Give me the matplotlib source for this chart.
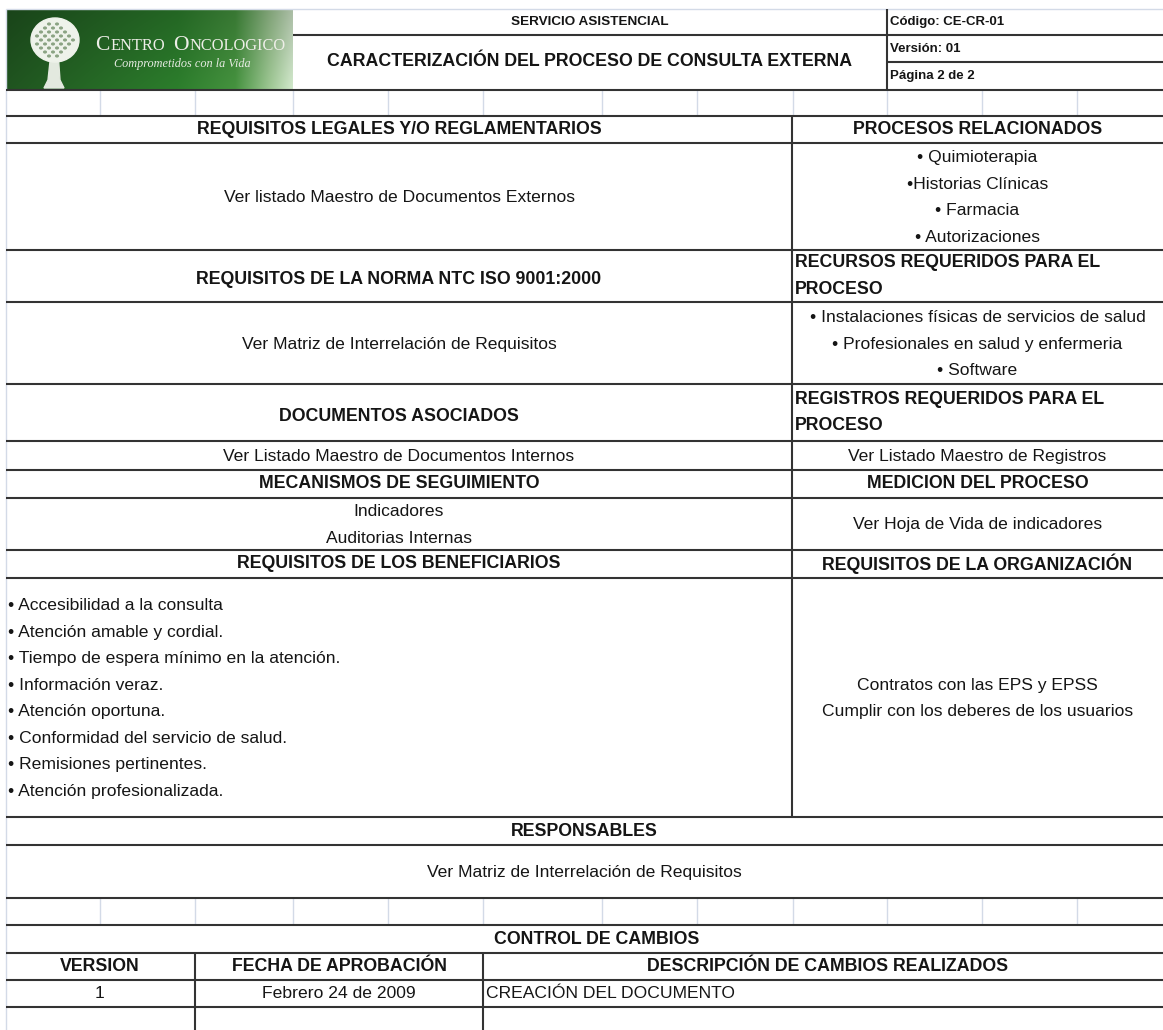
import numpy as np
import matplotlib.pyplot as plt
from matplotlib.patches import Ellipse, Polygon

# Page size in pixels (1 data unit = 1 pixel)
W, H = 1163, 1030
NARROW = ['Liberation Sans Narrow', 'Liberation Sans', 'DejaVu Sans']
SERIF = ['Liberation Serif', 'DejaVu Serif']

# ---- texts of the sheet ----
header_top = "SERVICIO ASISTENCIAL"
header_title = "CARACTERIZACIÓN DEL PROCESO DE CONSULTA EXTERNA"
header_info = ["Código: CE-CR-01", "Versión: 01", "Página 2 de 2"]
logo_name = ["C", "ENTRO", "  ", "O", "NCOLOGICO"]
logo_motto = "Comprometidos con la Vida"

left_titles = ["REQUISITOS LEGALES Y/O REGLAMENTARIOS",
               "REQUISITOS DE LA NORMA NTC ISO 9001:2000",
               "DOCUMENTOS ASOCIADOS",
               "MECANISMOS DE SEGUIMIENTO",
               "REQUISITOS DE LOS BENEFICIARIOS"]
beneficiarios = ["• Accesibilidad a la consulta",
                 "• Atención amable y cordial.",
                 "• Tiempo de espera mínimo en la atención.",
                 "• Información veraz.",
                 "• Atención oportuna.",
                 "• Conformidad del servicio de salud.",
                 "• Remisiones pertinentes.",
                 "• Atención profesionalizada."]
left_contents = [["Ver listado Maestro de Documentos Externos"],
                 ["Ver Matriz de Interrelación de Requisitos"],
                 ["Ver Listado Maestro de Documentos Internos"],
                 ["Indicadores", "Auditorias Internas"],
                 beneficiarios]

right_titles = [["PROCESOS RELACIONADOS"],
                ["RECURSOS REQUERIDOS PARA EL", "PROCESO"],
                ["REGISTROS REQUERIDOS PARA EL", "PROCESO"],
                ["MEDICION DEL PROCESO"],
                ["REQUISITOS DE LA ORGANIZACIÓN"]]
right_contents = [["• Quimioterapia", "•Historias Clínicas", "• Farmacia", "• Autorizaciones"],
                  ["• Instalaciones físicas de servicios de salud",
                   "• Profesionales en salud y enfermeria", "• Software"],
                  ["Ver Listado Maestro de Registros"],
                  ["Ver Hoja de Vida de indicadores"],
                  ["Contratos con las EPS y EPSS", "Cumplir con los deberes de los usuarios"]]

responsables_title = "RESPONSABLES"
responsables_text = "Ver Matriz de Interrelación de Requisitos"
cambios_title = "CONTROL DE CAMBIOS"
cambios_cols = ["VERSION", "FECHA DE APROBACIÓN", "DESCRIPCIÓN DE CAMBIOS REALIZADOS"]
cambios_rows = [["1", "Febrero 24 de 2009", "CREACIÓN DEL DOCUMENTO"]]

# ---- layout (pixels) ----
x_left, x_mid, x_right = 6, 792, W
grid_x = [100, 195, 293, 388, 483, 602, 697, 793, 887, 982, 1077]
# (title top, title bottom / content top, content bottom)
rows = [(116, 143, 250), (250, 302, 384), (384, 441, 470), (470, 498, 550), (550, 578, 817)]
line_gap = 26.6

DARK = '#333333'
LIGHT = '#d3dae7'
INK = '#151515'
BODY = 12.6
HEAD = 12.8

fig = plt.figure(figsize=(W / 100, H / 100), dpi=100)
ax = fig.add_axes([0, 0, 1, 1])
ax.set_xlim(0, W)
ax.set_ylim(H, 0)
ax.axis('off')


def hline(y, x0=x_left, x1=x_right, c=DARK, lw=1.5):
    ax.plot([x0, x1], [y, y], color=c, lw=lw, solid_capstyle='butt', zorder=3)


def vline(x, y0, y1, c=DARK, lw=1.5):
    ax.plot([x, x], [y0, y1], color=c, lw=lw, solid_capstyle='butt', zorder=3)


def lines_centered(items, xc, yc, ha='center', bold=False, size=BODY):
    n = len(items)
    for i, s in enumerate(items):
        y = yc + (i - (n - 1) / 2) * line_gap
        ax.text(xc, y, s, ha=ha, va='center', fontsize=size, family=NARROW,
                fontweight='bold' if bold else 'normal', color=INK)


# light spreadsheet gridlines
vline(x_left, 9, H, c=LIGHT, lw=1)
hline(9, c=LIGHT, lw=1)
for gx in grid_x:
    vline(gx, 90, 116, c=LIGHT, lw=1)
    vline(gx, 898, 925, c=LIGHT, lw=1)

# ---- logo ----
lx0, lx1, ly0, ly1 = 6, 293, 10, 89
stops_x = [0.0, 0.3, 0.6, 0.8, 0.92, 1.0]
stops_c = np.array([[30, 80, 30], [36, 100, 36], [42, 120, 42],
                    [66, 140, 60], [150, 190, 140], [200, 222, 194]]) / 255
fx = np.linspace(0, 1, 300)
grad = np.stack([np.interp(fx, stops_x, stops_c[:, k]) for k in range(3)], axis=-1)
shade = np.linspace(0.85, 1.05, 80)[:, None, None]
img = np.clip(grad[None, :, :] * shade, 0, 1)
ax.imshow(img, extent=(lx0, lx1, ly1, ly0), aspect='auto', zorder=1)

# tree: trunk + textured canopy
ax.add_patch(Polygon([[51, 52], [58, 52], [60, 80], [64, 88], [44, 88], [48, 80]],
                     closed=True, color='#e3e9df', zorder=2))
ax.add_patch(Ellipse((55, 40), 48, 44, color='#eef2ea', zorder=2))
for dx in range(-18, 19, 4):
    for dy in range(-16, 17, 4):
        if (dx / 22) ** 2 + (dy / 20) ** 2 < 0.75 and (dx // 4 + dy // 4) % 2 == 0:
            ax.add_patch(Ellipse((55 + dx, 40 + dy), 2.6, 1.8, color='#8aa382', zorder=2))

renderer = fig.canvas.get_renderer()
cx = 95
for part in logo_name:
    big = part in ("C", "O")
    t = ax.text(cx, 50, part, ha='left', va='baseline', family=SERIF,
                fontsize=15.5 if big else 11.8, color='#eeeee8', zorder=4)
    cx += t.get_window_extent(renderer).width + (1 if big else 0)
ax.text(182, 64, logo_motto, ha='center', va='center', family=SERIF, style='italic',
        fontsize=8.8, color='#e6ebe2', zorder=4)

# ---- header box ----
hline(35, 293, x_right)
hline(62, 887, x_right)
hline(90)
vline(887, 9, 90)
ax.text(590, 22, header_top, ha='center', va='center', family=NARROW,
        fontsize=9.7, fontweight='bold', color=INK)
ax.text(590, 62, header_title, ha='center', va='center', family=NARROW,
        fontsize=12.8, fontweight='bold', color=INK)
for s, y in zip(header_info, [22, 49, 76]):
    ax.text(890, y, s, ha='left', va='center', family=NARROW,
            fontsize=9.5, fontweight='bold', color=INK)

# ---- main two-column block ----
hline(116)
vline(x_mid, 116, 817)
xc_left = (x_left + x_mid) / 2
xc_right = (x_mid + x_right) / 2
for i, (t0, t1, t2) in enumerate(rows):
    hline(t1)
    hline(t2)
    ty = (t0 + t1) / 2 + (4 if t1 - t0 > 40 else 0)
    lines_centered([left_titles[i]], xc_left, ty, bold=True, size=HEAD)
    if len(right_titles[i]) > 1:
        lines_centered(right_titles[i], x_mid + 3, (t0 + t1) / 2, ha='left', bold=True, size=HEAD)
    else:
        lines_centered(right_titles[i], xc_right, (t0 + t1) / 2, bold=True, size=HEAD)
    if left_contents[i] is beneficiarios:
        lines_centered(left_contents[i], x_left + 2, (t1 + t2) / 2 + 1, ha='left')
    else:
        lines_centered(left_contents[i], xc_left, (t1 + t2) / 2 + 1)
    lines_centered(right_contents[i], xc_right, (t1 + t2) / 2 + 1)

# ---- responsables ----
hline(845)
hline(898)
lines_centered([responsables_title], 584, 831, bold=True, size=HEAD)
lines_centered([responsables_text], 584, 872)

# ---- control de cambios ----
hline(925)
hline(953)
hline(980)
hline(1007)
vline(195, 953, H)
vline(483, 953, H)
lines_centered([cambios_title], 597, 939, bold=True, size=HEAD)
col_centers = [100, 339, 828]
for s, xc in zip(cambios_cols, col_centers):
    lines_centered([s], xc, 966.5, bold=True, size=HEAD)
for r, row in enumerate(cambios_rows):
    y = 993.5 + r * 27
    lines_centered([row[0]], col_centers[0], y)
    lines_centered([row[1]], col_centers[1], y)
    lines_centered([row[2]], 486, y, ha='left')

fig.savefig('out.png', dpi=100, facecolor='white')
